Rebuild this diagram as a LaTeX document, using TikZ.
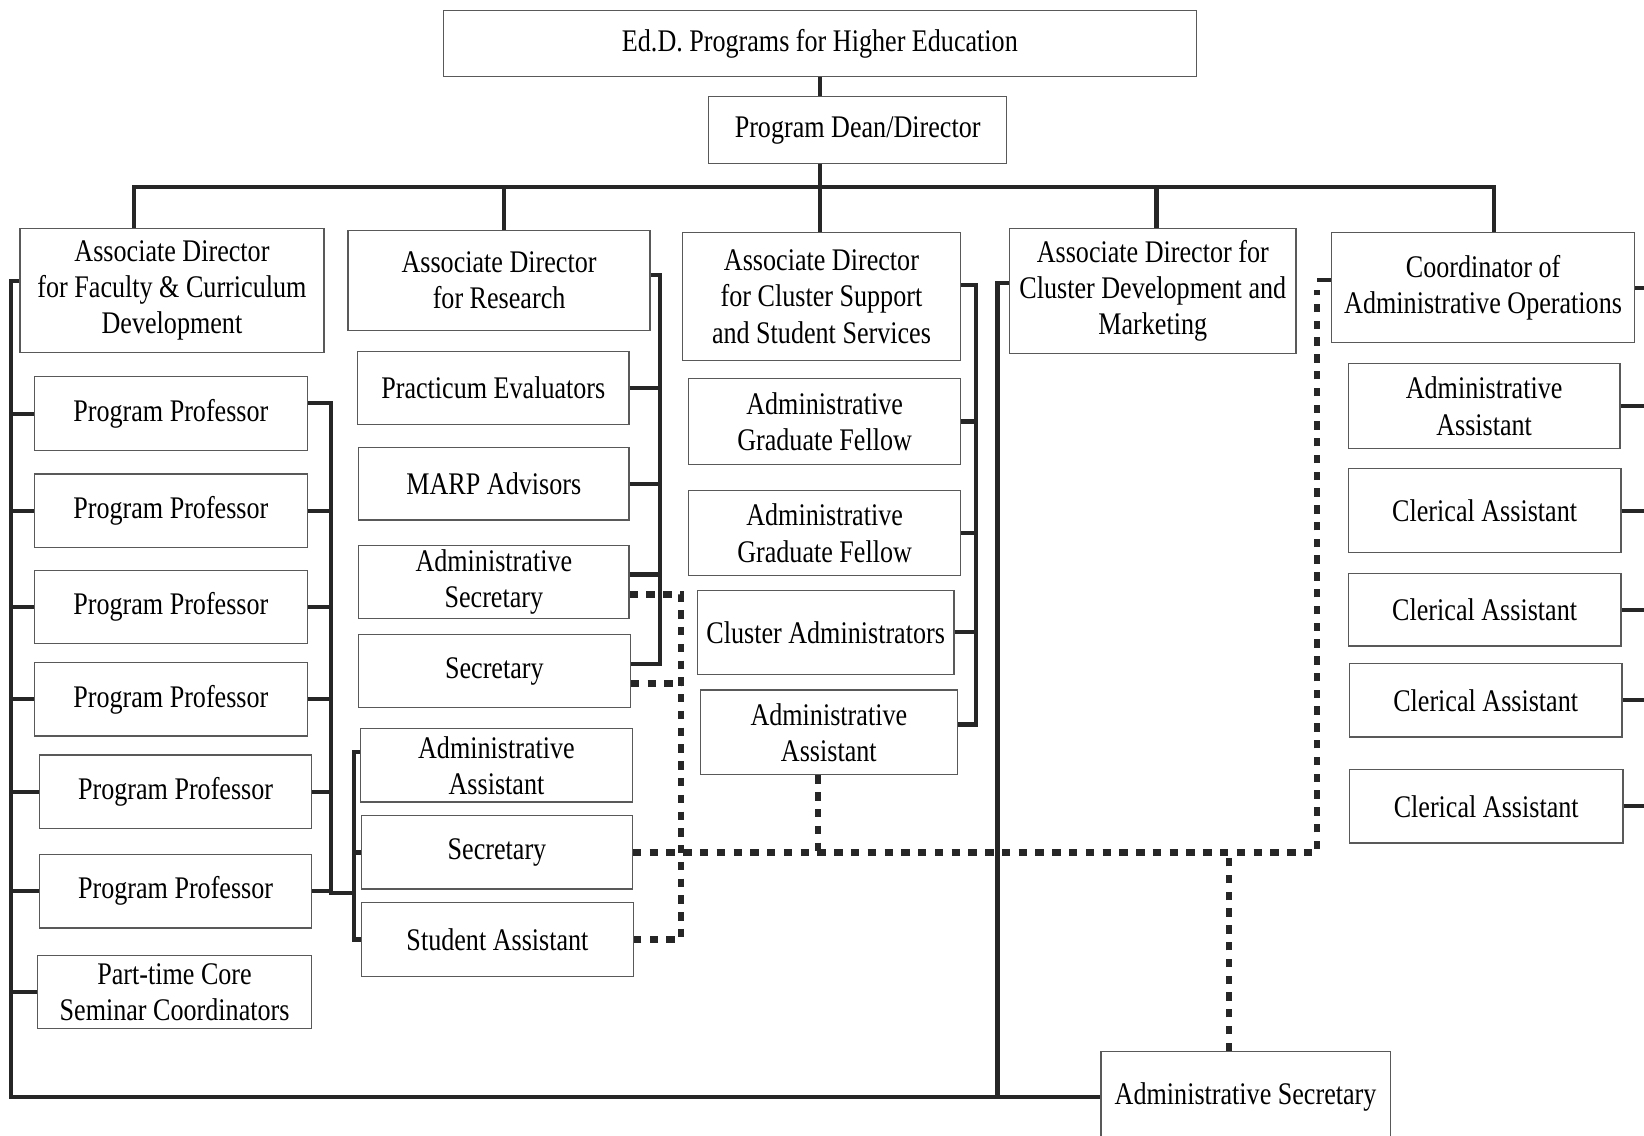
\documentclass[tikz,border=0pt]{standalone}
\usepackage{fontspec}
\setmainfont{Liberation Serif}[FakeStretch=0.83]

\begin{document}
\begin{tikzpicture}[
        x=0.5pt, y=-0.5pt,
        box/.style n args={2}{draw=black!65, line width=0.6pt, fill=white,
            align=center, inner sep=0pt, minimum width=#1*0.5pt,
            minimum height=#2*0.5pt, font=\fontsize{15}{17.25}\selectfont},
        link/.style={draw=black!85, line width=2pt},
        dotlink/.style={draw=black!85, line width=3pt, dash pattern=on 4pt off 4pt}
    ]
    \useasboundingbox (0,0) rectangle (1568,1083);
    \fill[white] (0,0) rectangle (1568,1083);

    \node[box={718}{63}] (edd) at (782,41.5) {Ed.D. Programs for Higher Education};
    \node[box={284}{64}] (dean) at (818,124) {Program Dean/Director};
    \coordinate (bus) at (782,178);

    \node[box={290}{118}] (adfc) at (164,277) {Associate Director\\for Faculty \& Curriculum\\Development};
    \node[box={288}{95}] (adr) at (476,267.5) {Associate Director\\for Research};
    \node[box={265}{122}] (adcs) at (783.5,283) {Associate Director\\for Cluster Support\\and Student Services};
    \node[box={273}{119}] (adcd) at (1099.5,277.5) {Associate Director for\\Cluster Development and\\Marketing};
    \node[box={289}{105}] (coord) at (1414.5,274.5) {Coordinator of\\Administrative Operations};

    \node[box={260}{71}] (pp1) at (163,394.5) {Program Professor};
    \node[box={260}{70}] (pp2) at (163,487) {Program Professor};
    \node[box={260}{70}] (pp3) at (163,579) {Program Professor};
    \node[box={260}{70}] (pp4) at (163,667) {Program Professor};
    \node[box={259}{70}] (pp5) at (167.5,755) {Program Professor};
    \node[box={259}{70}] (pp6) at (167.5,850) {Program Professor};
    \node[box={261}{70}] (ptc) at (166.5,946) {Part-time Core\\Seminar Coordinators};

    \node[box={259}{70}] (pe) at (470.5,370) {Practicum Evaluators};
    \node[box={258}{69}] (marp) at (471,461.5) {MARP Advisors};
    \node[box={258}{70}] (asec) at (471,555) {Administrative\\Secretary};
    \node[box={259}{70}] (sec1) at (471.5,640) {Secretary};
    \node[box={259}{70}] (aa1) at (473.5,730) {Administrative\\Assistant};
    \node[box={258}{70}] (sec2) at (474,813) {Secretary};
    \node[box={259}{70}] (sa) at (474.5,896) {Student Assistant};

    \node[box={259}{82}] (agf1) at (786.5,402) {Administrative\\Graduate Fellow};
    \node[box={259}{81}] (agf2) at (786.5,508.5) {Administrative\\Graduate Fellow};
    \node[box={245}{80}] (ca) at (787.5,603) {Cluster Administrators};
    \node[box={245}{81}] (aa2) at (790.5,698.5) {Administrative\\Assistant};

    \node[box={259}{81}] (aa3) at (1415.5,387.5) {Administrative\\Assistant};
    \node[box={260}{80}] (cl1) at (1416,487) {Clerical Assistant};
    \node[box={260}{69}] (cl2) at (1416,581.5) {Clerical Assistant};
    \node[box={260}{70}] (cl3) at (1417,668) {Clerical Assistant};
    \node[box={261}{70}] (cl4) at (1417.5,769) {Clerical Assistant};

    \node[box={276}{87}] (adsec) at (1188,1046.5) {Administrative Secretary};

    \draw[link] (edd.south -| bus) -- (dean.north -| bus);
    \draw[link] (dean.south -| bus) -- (bus);
    \draw[link] ([xshift=-18pt]adfc.north) |- (bus) -| ([xshift=5.25pt]coord.north);
    \path ([xshift=2.5pt]adr.north) coordinate (dr);
    \draw[link] (dr) -- (dr |- bus);
    \draw[link] (bus) -- (bus |- adcs.north);
    \path ([xshift=1.75pt]adcd.north) coordinate (dd);
    \draw[link] (dd) -- (dd |- bus);

    \draw[link] ([yshift=4.5pt]adfc.west) -- ++(-4pt,0) coordinate (lb) |- (adsec.west);
    \foreach \n in {pp1,pp2,pp3,pp4,pp5,pp6,ptc}
        \draw[link] (\n.west) -- (\n.west -| lb);

    \draw[link] ([yshift=6.5pt]aa1.west) -- ++(-3pt,0) coordinate (lg) |- (sa.west);
    \draw[link] (sec2.west) -- (sec2.west -| lg);
    \path ([yshift=-19.5pt]sec2.west) coordinate (pj);
    \draw[link] ([yshift=5pt]pp1.east) -- ++(11pt,0) coordinate (pr) |- (pj -| lg);
    \foreach \n in {pp2,pp3,pp4,pp5,pp6}
        \draw[link] (\n.east) -- (\n.east -| pr);

    \draw[link] ([yshift=2.75pt]adr.east) -- ++(4.5pt,0) coordinate (rr) |- ([yshift=3.5pt]sec1.east);
    \path ([yshift=3.5pt]asec.east) coordinate (as1);
    \draw[link] (as1) -- (as1 -| rr);
    \foreach \n in {pe,marp}
        \draw[link] (\n.east) -- (\n.east -| rr);

    \draw[link] ([yshift=5.5pt]adcs.east) -- ++(7pt,0) coordinate (cr) |- ([yshift=3.75pt]aa2.east);
    \foreach \n in {agf1,agf2,ca}
        \draw[link] (\n.east) -- (\n.east -| cr);

    \draw[link] ([yshift=3.75pt]adcd.west) -- ++(-5.5pt,0) coordinate (cb) -- (cb |- adsec.west);

    \coordinate (edge) at (1568,0);
    \foreach \n in {coord,aa3,cl1,cl2,cl3,cl4}
        \draw[link] (\n.east) -- (\n.east -| edge);
    \draw[link] ([yshift=3.75pt]coord.west) -- ++(-6.5pt,0) coordinate (dv);

    \draw[dotlink] ([yshift=-6pt]asec.east) -- ++(24.5pt,0) coordinate (dl) |- (sa.east);
    \path ([yshift=-6pt]sec1.east) coordinate (s1);
    \draw[dotlink] (s1) -- (s1 -| dl);
    \draw[dotlink] (sec2.east) -| ([yshift=-5pt]dv);
    \path ([xshift=-5pt]aa2.south) coordinate (a2);
    \draw[dotlink] (a2) -- (a2 |- sec2.east);
    \path ([xshift=-8pt]adsec.north) coordinate (as2);
    \draw[dotlink] (as2) -- (as2 |- sec2.east);
\end{tikzpicture}
\end{document}
